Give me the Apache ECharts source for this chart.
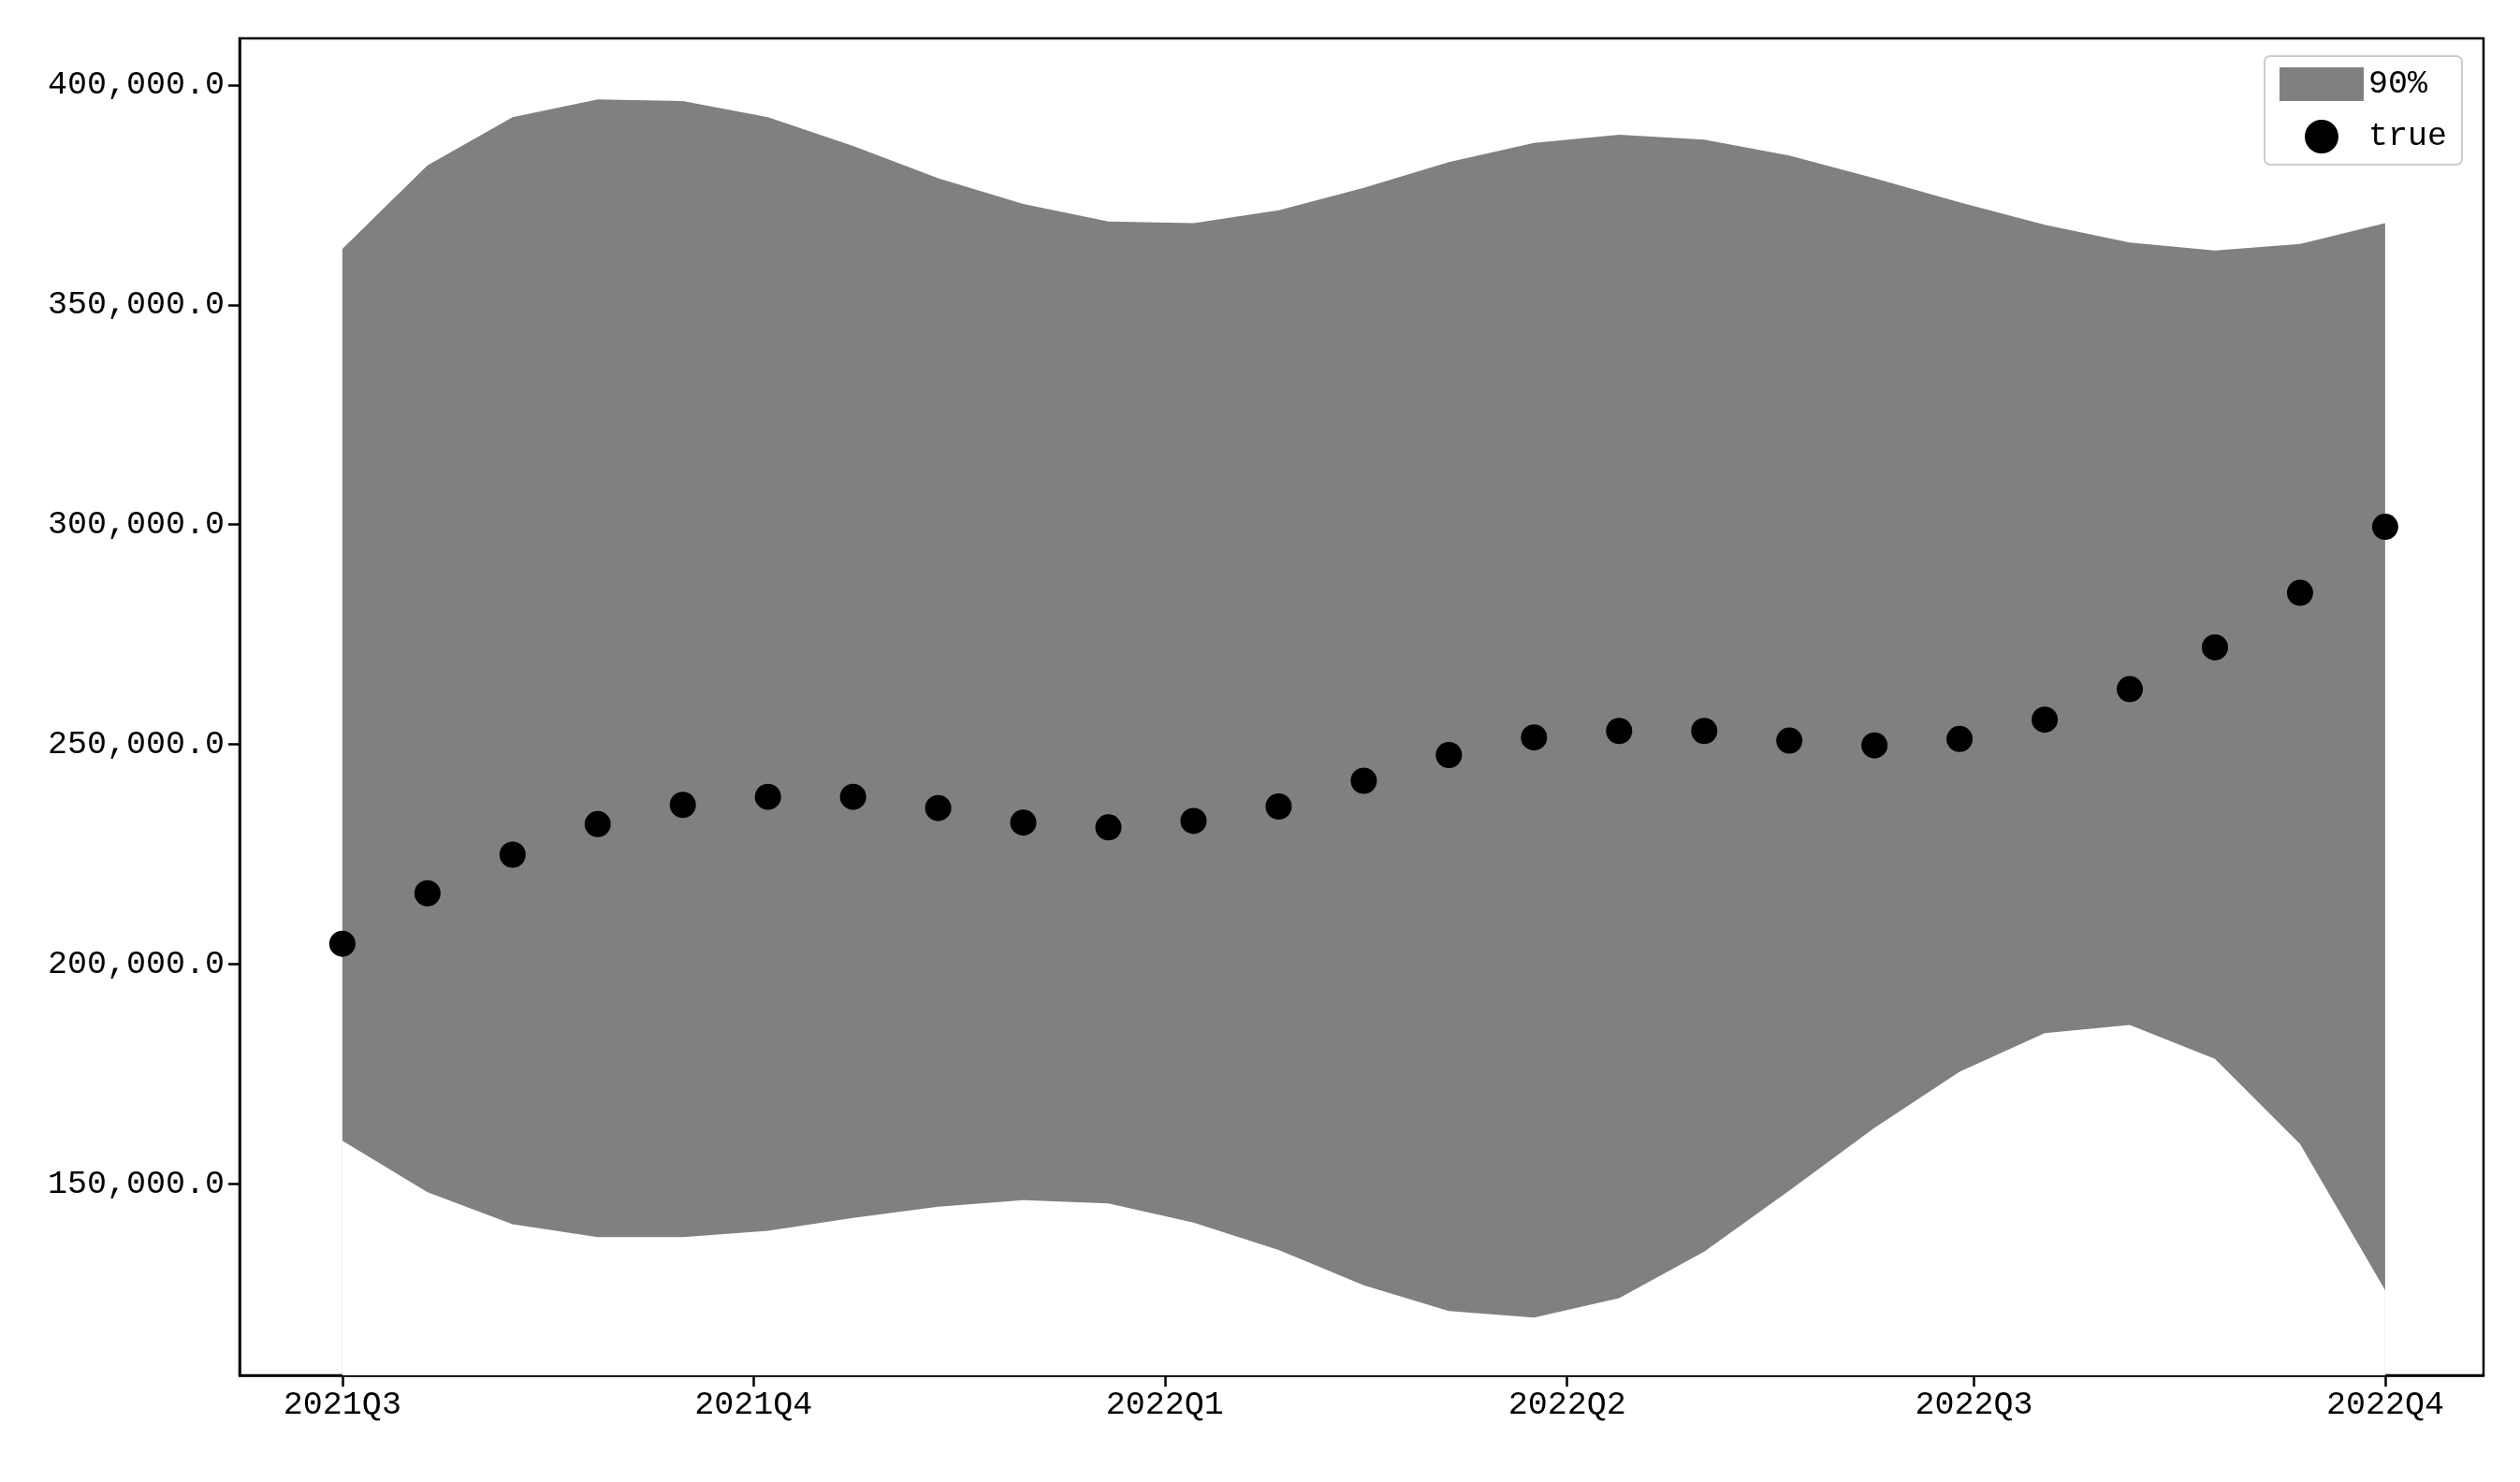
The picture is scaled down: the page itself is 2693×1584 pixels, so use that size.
<!DOCTYPE html>
<html>
<head>
<meta charset="utf-8">
<script src="https://cdn.jsdelivr.net/npm/echarts@6/dist/echarts.min.js"></script>
<style>html,body{margin:0;padding:0;background:#fff}#chart{width:2693px;height:1584px}</style>
</head>
<body>
<div id="chart"></div>
<script>
// days since 2021-07-01 for quarter ticks
var quarterDays = [0, 92, 184, 274, 365, 457];
var quarterLabels = ['2021Q3', '2021Q4', '2022Q1', '2022Q2', '2022Q3', '2022Q4'];
var yTicks = [150000, 200000, 250000, 300000, 350000, 400000];

var trueVals = [204680, 216150, 224925, 231870, 236256, 238083, 238083, 235525, 232235, 231139,
  232601, 235890, 241740, 247590, 251607, 253070, 253070, 250876, 249780, 251240,
  255630, 262570, 272075, 284500, 299490];
var upperVals = [362720, 381725, 392690, 396710, 396345, 392690, 386110, 378800, 372950, 368930,
  368565, 371490, 376610, 382456, 386840, 388670, 387570, 383920, 378800, 373320,
  368200, 364180, 362350, 363815, 368565];
var lowerVals = [159866, 148170, 140860, 137936, 137936, 139398, 142322, 144880, 146342, 145611,
  141225, 135012, 126971, 121123, 119661, 124047, 134646, 148535, 162789, 175582,
  184354, 186182, 178506, 159134, 125872];

var step = 457 / 24;
var xs = trueVals.map(function (v, i) { return i * step; });
var lowerData = xs.map(function (x, i) { return [x, lowerVals[i]]; });
var upperData = xs.map(function (x, i) { return [x, upperVals[i]]; });
var trueData = xs.map(function (x, i) { return [x, trueVals[i]]; });

var font = 'Liberation Mono';
var chart = echarts.init(document.getElementById('chart'));
chart.setOption({
  animation: false,
  grid: { left: 256, right: 39, top: 41, bottom: 114, show: true, borderColor: '#000', borderWidth: 2.5, backgroundColor: 'transparent' },
  legend: {
    right: 62, top: 60, orient: 'vertical',
    itemWidth: 90, itemHeight: 36, itemGap: 20,
    padding: [12, 16, 12, 16],
    borderColor: '#cccccc', borderWidth: 2, borderRadius: 6,
    textStyle: { fontFamily: font, fontSize: 35, color: '#000' },
    data: [{ name: '90%', icon: 'rect' }, { name: 'true', icon: 'circle' }]
  },
  xAxis: {
    type: 'value', min: -23, max: 479,
    splitLine: { show: false },
    axisLine: { onZero: false, lineStyle: { color: '#000', width: 2.5 } },
    axisTick: { customValues: quarterDays, length: 12, lineStyle: { color: '#000', width: 2.5 } },
    axisLabel: {
      customValues: quarterDays, margin: 14, color: '#000', fontFamily: font, fontSize: 35,
      formatter: function (v) { return quarterLabels[quarterDays.indexOf(Math.round(v))]; }
    }
  },
  yAxis: {
    type: 'value', min: 106500, max: 410600,
    splitLine: { show: false },
    axisLine: { show: true, onZero: false, lineStyle: { color: '#000', width: 2.5 } },
    axisTick: { show: true, customValues: yTicks, length: 12, lineStyle: { color: '#000', width: 2.5 } },
    axisLabel: {
      customValues: yTicks, margin: 16, color: '#000', fontFamily: font, fontSize: 35,
      formatter: function (v) { return v.toLocaleString('en-US') + '.0'; }
    }
  },
  series: [
    { name: '90%', type: 'line', data: upperData, symbol: 'none', z: 1,
      itemStyle: { color: '#808080' },
      lineStyle: { opacity: 0 }, areaStyle: { color: '#808080', opacity: 1, origin: 'start' } },
    { name: 'lower', type: 'line', data: lowerData, symbol: 'none', z: 2, silent: true,
      lineStyle: { opacity: 0 }, areaStyle: { color: '#ffffff', opacity: 1, origin: 'start' } },
    { name: 'true', type: 'scatter', data: trueData, symbolSize: 28, z: 3,
      itemStyle: { color: '#000', opacity: 1 } }
  ]
});
</script>
</body>
</html>
